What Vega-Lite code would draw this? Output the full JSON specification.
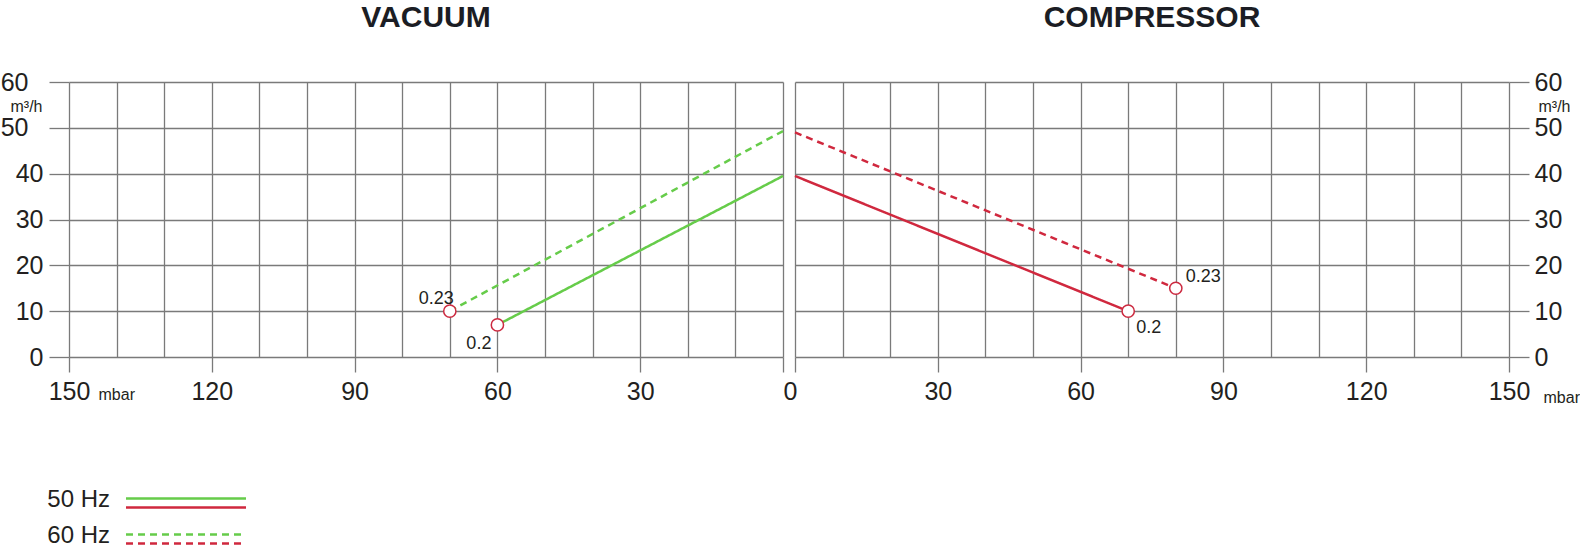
{
  "$schema": "https://vega.github.io/schema/vega-lite/v6.json",
  "padding": {"left": 0, "top": 3, "right": 0, "bottom": 0},
  "datasets": {
    "curves": [
      {"side": "VACUUM", "freq": "50 Hz", "pressure": 0, "flow": 39.5},
      {"side": "VACUUM", "freq": "50 Hz", "pressure": 60, "flow": 7, "kw": "0.2"},
      {"side": "VACUUM", "freq": "60 Hz", "pressure": 0, "flow": 49.3},
      {"side": "VACUUM", "freq": "60 Hz", "pressure": 70, "flow": 10, "kw": "0.23"},
      {"side": "COMPRESSOR", "freq": "50 Hz", "pressure": 0, "flow": 39.5},
      {"side": "COMPRESSOR", "freq": "50 Hz", "pressure": 70, "flow": 10, "kw": "0.2"},
      {"side": "COMPRESSOR", "freq": "60 Hz", "pressure": 0, "flow": 49},
      {"side": "COMPRESSOR", "freq": "60 Hz", "pressure": 80, "flow": 15, "kw": "0.23"}
    ],
    "legend": [
      {"freq": "50 Hz", "mode": "VACUUM"},
      {"freq": "50 Hz", "mode": "COMPRESSOR"},
      {"freq": "60 Hz", "mode": "VACUUM"},
      {"freq": "60 Hz", "mode": "COMPRESSOR"}
    ]
  },
  "vconcat": [
    {
      "hconcat": [
        {
          "title": "VACUUM",
          "width": 714,
          "height": 275,
          "data": {"name": "curves"},
          "transform": [{"filter": "datum.side === 'VACUUM'"}],
          "encoding": {
            "x": {
              "field": "pressure", "type": "quantitative",
              "scale": {"domain": [0, 150], "reverse": true, "nice": false, "zero": true},
              "axis": {
                "values": [0, 10, 20, 30, 40, 50, 60, 70, 80, 90, 100, 110, 120, 130, 140, 150],
                "labelExpr": "datum.value % 30 === 0 ? datum.label : ''",
                "tickOpacity": {"condition": {"test": "datum.value % 30 === 0", "value": 1}, "value": 0},
                "labelAlign": {"condition": {"test": "datum.value === 0", "value": "left"}, "value": "center"},
                "tickSize": 15,
                "labelPadding": 7,
                "labelFlush": false,
                "labelOverlap": false,
                "title": "mbar",
                "titleX": 29,
                "titleY": 37,
                "titleAlign": "left",
                "titleBaseline": "middle",
                "titleFontSize": 16,
                "titleAngle": 0
              }
            },
            "y": {
              "field": "flow", "type": "quantitative",
              "scale": {"domain": [0, 60], "nice": false},
              "axis": {
                "values": [0, 10, 20, 30, 40, 50, 60],
                "tickSize": 20,
                "labelPadding": {"condition": {"test": "datum.value >= 50", "value": 21}, "value": 6},
                "labelOverlap": false,
                "title": "m³/h",
                "titleAngle": 0,
                "titleX": -27,
                "titleY": 24,
                "titleAlign": "right",
                "titleBaseline": "middle",
                "titleFontSize": 16
              }
            }
          },
          "layer": [
            {
              "mark": {"type": "line", "color": "#66cc4a", "strokeWidth": 2.5},
              "encoding": {
                "strokeDash": {"field": "freq", "type": "nominal", "scale": {"domain": ["50 Hz", "60 Hz"], "range": [[1, 0], [7, 5]]}, "legend": null}
              }
            },
            {
              "transform": [{"filter": "datum.kw != null"}],
              "mark": {"type": "point", "shape": "circle", "filled": true, "fill": "white", "stroke": "#cc2a40", "strokeWidth": 1.5, "size": 150, "opacity": 1}
            },
            {
              "transform": [{"filter": "datum.kw != null && datum.freq === '60 Hz'"}],
              "mark": {"type": "text", "align": "right", "baseline": "alphabetic", "dx": 4, "dy": -7, "fontSize": 18, "color": "#231f20"},
              "encoding": {"text": {"field": "kw"}}
            },
            {
              "transform": [{"filter": "datum.kw != null && datum.freq === '50 Hz'"}],
              "mark": {"type": "text", "align": "right", "baseline": "alphabetic", "dx": -6, "dy": 24, "fontSize": 18, "color": "#231f20"},
              "encoding": {"text": {"field": "kw"}}
            }
          ]
        },
        {
          "title": "COMPRESSOR",
          "width": 714,
          "height": 275,
          "data": {"name": "curves"},
          "transform": [{"filter": "datum.side === 'COMPRESSOR'"}],
          "encoding": {
            "x": {
              "field": "pressure", "type": "quantitative",
              "scale": {"domain": [0, 150], "nice": false, "zero": true},
              "axis": {
                "values": [0, 10, 20, 30, 40, 50, 60, 70, 80, 90, 100, 110, 120, 130, 140, 150],
                "labelExpr": "datum.value % 30 === 0 && datum.value > 0 ? datum.label : ''",
                "tickOpacity": {"condition": {"test": "datum.value % 30 === 0", "value": 1}, "value": 0},
                "tickSize": 15,
                "labelPadding": 7,
                "labelFlush": false,
                "labelOverlap": false,
                "title": "mbar",
                "titleX": 748,
                "titleY": 40,
                "titleAlign": "left",
                "titleBaseline": "middle",
                "titleFontSize": 16,
                "titleAngle": 0
              }
            },
            "y": {
              "field": "flow", "type": "quantitative",
              "scale": {"domain": [0, 60], "nice": false},
              "axis": {
                "orient": "right",
                "values": [0, 10, 20, 30, 40, 50, 60],
                "tickSize": 20,
                "labelPadding": 5,
                "labelOverlap": false,
                "title": "m³/h",
                "titleAngle": 0,
                "titleX": 29,
                "titleY": 24,
                "titleAlign": "left",
                "titleBaseline": "middle",
                "titleFontSize": 16
              }
            }
          },
          "layer": [
            {
              "mark": {"type": "line", "color": "#d0283e", "strokeWidth": 2.5},
              "encoding": {
                "strokeDash": {"field": "freq", "type": "nominal", "scale": {"domain": ["50 Hz", "60 Hz"], "range": [[1, 0], [7, 5]]}, "legend": null}
              }
            },
            {
              "transform": [{"filter": "datum.kw != null"}],
              "mark": {"type": "point", "shape": "circle", "filled": true, "fill": "white", "stroke": "#cc2a40", "strokeWidth": 1.5, "size": 150, "opacity": 1}
            },
            {
              "transform": [{"filter": "datum.kw != null && datum.freq === '60 Hz'"}],
              "mark": {"type": "text", "align": "left", "baseline": "alphabetic", "dx": 10, "dy": -6, "fontSize": 18, "color": "#231f20"},
              "encoding": {"text": {"field": "kw"}}
            },
            {
              "transform": [{"filter": "datum.kw != null && datum.freq === '50 Hz'"}],
              "mark": {"type": "text", "align": "left", "baseline": "alphabetic", "dx": 8, "dy": 22, "fontSize": 18, "color": "#231f20"},
              "encoding": {"text": {"field": "kw"}}
            }
          ]
        }
      ],
      "spacing": 12,
      "bounds": "flush"
    },
    {
      "width": 250,
      "height": 54,
      "data": {"name": "legend"},
      "layer": [
        {
          "mark": {"type": "rule", "strokeWidth": 2.5},
          "encoding": {
            "x": {"datum": 0.228, "type": "quantitative", "scale": {"domain": [0, 1], "nice": false}, "axis": null},
            "x2": {"datum": 0.708},
            "y": {"field": "freq", "type": "nominal", "scale": {"type": "band", "domain": ["50 Hz", "60 Hz"], "paddingInner": 0.5, "paddingOuter": 0}, "axis": null},
            "yOffset": {"field": "mode", "type": "nominal", "scale": {"domain": ["VACUUM", "COMPRESSOR"]}},
            "color": {"field": "mode", "type": "nominal", "scale": {"domain": ["VACUUM", "COMPRESSOR"], "range": ["#66cc4a", "#d0283e"]}, "legend": null},
            "strokeDash": {"field": "freq", "type": "nominal", "scale": {"domain": ["50 Hz", "60 Hz"], "range": [[1, 0], [5, 4]]}, "legend": null}
          }
        },
        {
          "transform": [{"filter": "datum.mode === 'VACUUM'"}],
          "mark": {"type": "text", "align": "right", "baseline": "middle", "fontSize": 24, "dy": -3, "color": "#231f20"},
          "encoding": {
            "x": {"datum": 0.164, "type": "quantitative"},
            "y": {"field": "freq", "type": "nominal"},
            "text": {"field": "freq"}
          }
        }
      ]
    }
  ],
  "spacing": 83,
  "config": {
    "view": {"stroke": null},
    "font": "Liberation Sans",
    "axis": {
      "domain": false,
      "gridColor": "#7a7a7a",
      "gridWidth": 1.3,
      "gridOpacity": 1,
      "tickColor": "#7a7a7a",
      "tickWidth": 1.3,
      "labelFont": "Liberation Sans",
      "labelFontSize": 25,
      "labelColor": "#231f20",
      "titleFont": "Liberation Sans",
      "titleColor": "#231f20",
      "titleFontWeight": "normal"
    },
    "title": {"font": "Liberation Sans", "fontSize": 30, "fontWeight": "bold", "color": "#1b1d24", "anchor": "middle", "frame": "group", "offset": 37}
  }
}
